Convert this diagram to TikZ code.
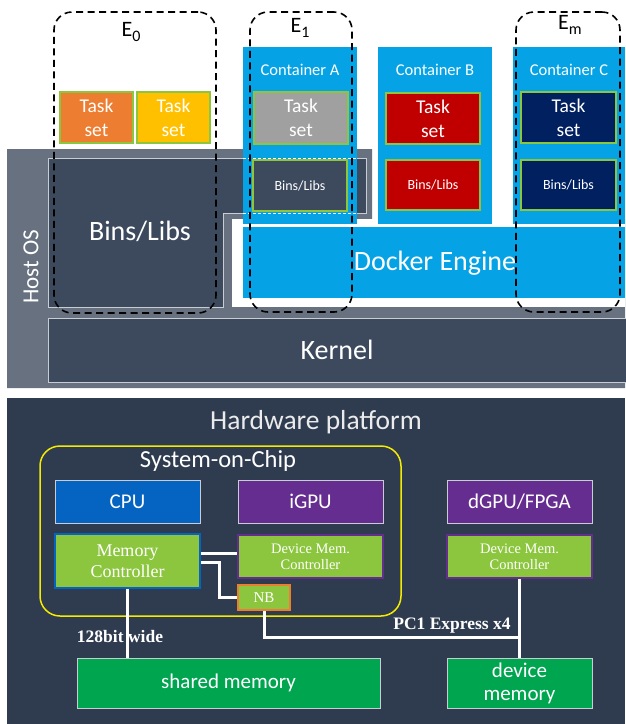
\documentclass[tikz,border=0pt]{standalone}
\usepackage{fontspec}
\newfontfamily\calfont{Carlito}
\newfontfamily\tmsfont{Liberation Serif}
\definecolor{hostgray}{HTML}{67717F}
\definecolor{darkslate}{HTML}{3D4A5E}
\definecolor{hwbg}{HTML}{2F3C50}
\definecolor{dockblue}{HTML}{05A3E6}
\definecolor{tgreen}{HTML}{8CC63F}
\definecolor{torange}{HTML}{ED7D31}
\definecolor{tyellow}{HTML}{FFC000}
\definecolor{tgray}{HTML}{A0A0A0}
\definecolor{tred}{HTML}{C00000}
\definecolor{tnavy}{HTML}{002060}
\definecolor{cpublue}{HTML}{0563C1}
\definecolor{gpupurple}{HTML}{662D91}
\definecolor{memgreen}{HTML}{00A54F}
\definecolor{socyellow}{HTML}{F5EB00}
\definecolor{lightedge}{HTML}{C8CDD4}
\newcommand{\esub}[1]{\raisebox{-0.25em}{\fontsize{16}{18}\selectfont #1}}
\begin{document}
\begin{tikzpicture}[x=1pt,y=-1pt,
  cont/.style={fill=dockblue, draw=none, inner sep=0pt},
  clab/.style={text=white, font=\calfont\fontsize{16.5}{18}\selectfont, inner sep=0pt},
  tbox/.style={draw=tgreen, line width=1.3pt, inner sep=0pt, text=white, align=center,
               font=\calfont\fontsize{19.5}{24}\selectfont},
  sbox/.style={draw=tgreen, line width=1.3pt, inner sep=0pt, text=white,
               font=\calfont\fontsize{14}{16}\selectfont},
  envbox/.style={draw=black, dashed, dash pattern=on 7pt off 4.5pt, line width=1.6pt, rounded corners=18pt, inner sep=0pt},
  elab/.style={font=\calfont\fontsize{22}{24}\selectfont, inner sep=0pt},
  bigtxt/.style={text=white, font=\calfont\fontsize{28}{30}\selectfont, inner sep=0pt},
  hwbox/.style={draw=lightedge, line width=1pt, inner sep=0pt, text=white,
               font=\calfont\fontsize{21}{23}\selectfont, align=center},
  ctrl/.style={fill=tgreen, line width=1.5pt, inner sep=0pt, text=white, align=center},
  wire/.style={draw=white, line width=3pt},
  wlab/.style={text=white, font=\tmsfont\bfseries\fontsize{17.5}{19}\selectfont, inner sep=0pt}
]
\useasboundingbox (0,0) rectangle (625,724);

% ---------- Host OS area ----------
\fill[hostgray] (7,149) -- (372,149) -- (372,219) -- (625,219) -- (625,388) -- (7,388) -- cycle;
\fill[white] (232,219) rectangle (625,307);
\draw[fill=darkslate, draw=lightedge, line width=0.8pt]
  (48,158) -- (366,158) -- (366,213) -- (223,213) -- (223,307) -- (48,307) -- cycle;
\node[bigtxt] (bl) at (140,231) {Bins/Libs};
\node[text=white, font=\calfont\fontsize{23}{25}\selectfont, rotate=90, inner sep=0pt] (hos) at (31,267) {Host OS};

% Kernel
\node[fill=darkslate, draw=lightedge, line width=0.8pt, minimum width=580pt, minimum height=64pt, inner sep=0pt, anchor=north west] (kern) at (48,318) {};
\node[bigtxt] at (337,350) {Kernel};

% ---------- Containers ----------
\node[cont, minimum width=114pt, minimum height=177pt] (ca) at (300,135.5) {};
\node[cont, minimum width=114pt, minimum height=177pt] (cb) at (435,135.5) {};
\node[cont, minimum width=112pt, minimum height=177pt] (cc) at (569,135.5) {};
\node[cont, minimum width=382pt, minimum height=71pt] (dock) at (434,262.5) {};
\node[bigtxt] at (435,263) {Docker Engine};

\draw[white, dashed, dash pattern=on 3pt off 2pt, line width=0.8pt] (243,158) -- (357,158);
\draw[white, dashed, dash pattern=on 3pt off 2pt, line width=0.8pt] (243,213) -- (357,213);

\node[clab] at ([yshift=-23pt]ca.north) {Container A};
\node[clab] at ([yshift=-23pt]cb.north) {Container B};
\node[clab] at ([yshift=-23pt]cc.north) {Container C};

% Task sets
\node[tbox, fill=torange, minimum width=73pt, minimum height=51pt] (t0a) at (96.5,117.5) {Task\\set};
\node[tbox, fill=tyellow, minimum width=73pt, minimum height=51pt] (t0b) at (173.5,117.5) {Task\\set};
\node[tbox, fill=tgray, minimum width=94pt, minimum height=52pt] (ta) at (301,118) {Task\\set};
\node[sbox, fill=darkslate, minimum width=94pt, minimum height=51pt] (ba) at (300,185.5) {Bins/Libs};
\node[tbox, fill=tred, minimum width=94pt, minimum height=51pt] (tb) at (433,118.5) {Task\\set};
\node[sbox, fill=tred, minimum width=94pt, minimum height=50pt] (bb) at (433,185) {Bins/Libs};
\node[tbox, fill=tnavy, minimum width=95pt, minimum height=51pt] (tc) at (568.5,117.5) {Task\\set};
\node[sbox, fill=tnavy, minimum width=95pt, minimum height=50pt] (bc) at (568.5,185) {Bins/Libs};

% Environments
\node[envbox, minimum width=162pt, minimum height=301pt] (e0) at (135,162.5) {};
\node[envbox, minimum width=102pt, minimum height=300pt] (e1) at (301,162) {};
\node[envbox, minimum width=104pt, minimum height=300pt] (em) at (568,162) {};
\node[elab] at (131,32) {E\esub{0}};
\node[elab] at (300,28) {E\esub{1}};
\node[elab] at (570,25) {E\esub{m}};

% ---------- Hardware platform ----------
\fill[hwbg] (7,398) rectangle (625,724);
\node[text=white!92!black, font=\calfont\fontsize{27.5}{30}\selectfont, inner sep=0pt] (hwt) at (316,422) {Hardware platform};
\node[draw=socyellow, line width=1.5pt, rounded corners=20pt, minimum width=361pt, minimum height=170pt, inner sep=0pt] (soc) at (220.5,531) {};
\node[text=white, font=\calfont\fontsize{24.5}{26}\selectfont, inner sep=0pt] at (218,461) {System-on-Chip};

\node[hwbox, fill=cpublue, minimum width=145pt, minimum height=43pt] (cpu) at (127.5,501.5) {CPU};
\node[hwbox, fill=gpupurple, minimum width=145pt, minimum height=43pt] (igpu) at (310.5,501.5) {iGPU};
\node[hwbox, fill=gpupurple, minimum width=145pt, minimum height=43pt] (dgpu) at (519.5,501.5) {dGPU/FPGA};

\node[ctrl, draw=cpublue, minimum width=145pt, minimum height=54pt, font=\tmsfont\fontsize{18}{21}\selectfont] (mc) at (127.5,561) {Memory\\Controller};
\node[ctrl, draw=gpupurple, minimum width=145pt, minimum height=43pt, font=\tmsfont\fontsize{14.5}{16}\selectfont] (dm1) at (310.5,556.5) {Device Mem.\\Controller};
\node[ctrl, draw=gpupurple, minimum width=145pt, minimum height=43pt, font=\tmsfont\fontsize{14.5}{16}\selectfont] (dm2) at (519.5,556.5) {Device Mem.\\Controller};
\node[ctrl, draw=torange, minimum width=52pt, minimum height=25pt, font=\tmsfont\fontsize{15}{17}\selectfont] (nb) at (264,597.5) {NB};

\node[hwbox, fill=memgreen, minimum width=303pt, minimum height=50pt] (shm) at (228.5,683) {shared memory};
\node[hwbox, fill=memgreen, minimum width=145pt, minimum height=50pt] (dvm) at (519.5,683) {device\\memory};

% wires
\coordinate (pcie) at (519.5,637);
\draw[wire] ([yshift=8pt]mc.east) -- ([yshift=8pt]mc.east -| dm1.west);
\draw[wire] ([yshift=-1pt]mc.east) -- ++(19,0) |- (nb.west);
\draw[wire] (nb.south) |- (pcie);
\draw[wire] (dm2.south) -- (dvm.north);
\draw[wire] (mc.south) -- (mc.south |- shm.north);
\node[wlab] at (120,637) {128bit wide};
\node[wlab] at (452,626) {PC1 Express x4};
\end{tikzpicture}
\end{document}
